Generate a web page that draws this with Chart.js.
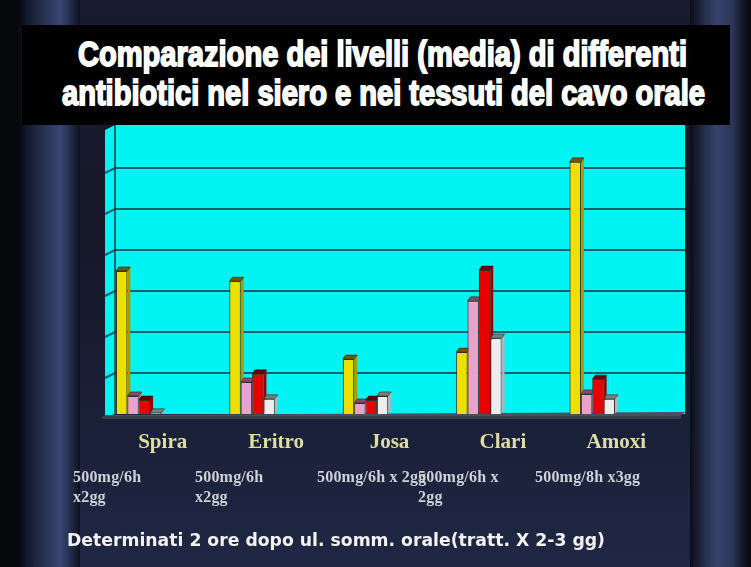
<!DOCTYPE html>
<html><head><meta charset="utf-8">
<script src="https://cdn.jsdelivr.net/npm/chart.js@4.4.1/dist/chart.umd.min.js"></script>
<style>
html,body{margin:0;padding:0;}
body{width:751px;height:567px;position:relative;overflow:hidden;
 background:linear-gradient(to bottom,#181c30 0%,#141828 40%,#1a2038 75%,#1f2744 100%);}
.stripe{position:absolute;top:0;height:567px;}
#sl{left:18px;width:62px;background:linear-gradient(to right,#06070b 0%,#141a2c 15%,#2a3456 45%,#3a4672 68%,#2a3458 80%,#0e111c 100%);}
#sr{left:690px;width:61px;background:linear-gradient(to right,#0b0d16 0%,#26304e 25%,#38446c 45%,#2a3456 70%,#10131e 90%,#08090e 100%);}
#edgeL{position:absolute;left:0;top:0;width:18px;height:567px;background:#07080c;}
#title{position:absolute;left:22px;top:25px;width:708px;height:100px;background:#000;}
.tl{position:absolute;white-space:nowrap;font-family:"Liberation Sans Narrow","Liberation Sans",sans-serif;font-weight:bold;color:#fff;font-size:31px;line-height:31px;transform-origin:left top;-webkit-text-stroke:1.6px #fff;}
#chart{position:absolute;left:0;top:0;}
.dose{position:absolute;font-family:"Liberation Serif",serif;font-weight:bold;font-size:16px;color:#cfd1d8;line-height:20px;white-space:pre;letter-spacing:0.2px;}
#foot{position:absolute;left:67px;top:530px;font-family:"DejaVu Sans",sans-serif;font-weight:bold;font-size:18px;line-height:20px;color:#f2f2f2;white-space:nowrap;transform-origin:left top;}
</style></head>
<body>
<div id="edgeL"></div>
<div class="stripe" id="sl"></div>
<div class="stripe" id="sr"></div>
<div id="title"></div>
<canvas id="chart" width="751" height="567"></canvas>
<div id="foot"></div>
<script>
// ---- data ----
const titleLines = ["Comparazione dei livelli (media) di differenti","antibiotici nel siero e nei tessuti del cavo orale"];
const categories = ["Spira","Eritro","Josa","Clari","Amoxi"];
const doses = [["500mg/6h","x2gg"],["500mg/6h","x2gg"],["500mg/6h x 2gg"],["500mg/6h x","2gg"],["500mg/8h x3gg"]];
const yellowValues = [3.49,3.24,1.34,1.51,6.15];
const pinkValues   = [0.44,0.78,0.27,2.76,0.49];
const redValues    = [0.34,0.98,0.34,3.51,0.85];
const whiteValues  = [0.03,0.37,0.44,1.85,0.37];
const yMin = 0, yMax = 7, yStep = 1;
const footnote = "Determinati 2 ore dopo ul. somm. orale(tratt. X 2-3 gg)";

// ---- title / texts ----
const titleBox = document.getElementById('title');
const titleGeom = [{x:56,y:12,w:609},{x:40,y:51,w:643}];
titleLines.forEach((t,i)=>{
  const d=document.createElement('div'); d.className='tl'; d.textContent=t;
  titleBox.appendChild(d);
  const w=d.getBoundingClientRect().width;
  d.style.left=titleGeom[i].x+'px'; d.style.top=titleGeom[i].y+'px';
  d.style.transform='scale('+(titleGeom[i].w/w)+',1.12)';
});
const foot=document.getElementById('foot');
foot.textContent = footnote;
foot.style.transform='scaleX('+(538/foot.getBoundingClientRect().width)+')';
const doseX=[73,195,317,418,535];
doses.forEach((lines,i)=>{
  const d=document.createElement('div'); d.className='dose';
  d.textContent=lines.join('\n');
  d.style.left=doseX[i]+'px'; d.style.top='467px';
  document.body.appendChild(d);
});

// ---- plugins ----
const wallPlugin = {
  id:'wall',
  beforeDatasetsDraw(chart){
    const {ctx, chartArea:a, scales:{y}} = chart;
    const L=a.left+33, R=a.right+36, B=a.bottom, T=y.getPixelForValue(yMax)-2;
    ctx.save();
    ctx.fillStyle='#00f4f4';
    ctx.fillRect(L,T,R-L,B-T);
    ctx.beginPath(); ctx.moveTo(L,T); ctx.lineTo(L-10,T+5); ctx.lineTo(L-10,B+3); ctx.lineTo(L,B); ctx.closePath(); ctx.fill();
    ctx.strokeStyle='#16606c'; ctx.lineWidth=2;
    for(let v=yMin+yStep; v<yMax; v+=yStep){
      const py=Math.round(y.getPixelForValue(v));
      ctx.beginPath(); ctx.moveTo(L-10,py+5); ctx.lineTo(L,py); ctx.lineTo(R,py); ctx.stroke();
    }
    ctx.strokeStyle='#1b3a44'; ctx.lineWidth=1.5;
    ctx.beginPath(); ctx.moveTo(L,T); ctx.lineTo(L,B); ctx.stroke();
    ctx.fillStyle='#4a4e5e';
    ctx.beginPath(); ctx.moveTo(L-10,B+1); ctx.lineTo(R,B-2); ctx.lineTo(R-6,B+3); ctx.lineTo(L-14,B+4); ctx.closePath(); ctx.fill();
    ctx.fillStyle='#3a3e4c'; ctx.fillRect(L-12,B+2,R-L+8,3);
    ctx.restore();
  }
};
const shade = {'#ede000':['#6b5a10','#a89c00'],'#e9a2cc':['#8a4a68','#b87898'],'#e80000':['#6a0000','#9a0000'],'#ededed':['#7c7c80','#b4b4b8']};
const barPlugin = {
  id:'bar3d',
  afterDatasetsDraw(chart){
    const ctx=chart.ctx;
    ctx.save();
    chart.data.datasets.forEach((ds,i)=>{
      const meta=chart.getDatasetMeta(i);
      const [capC, sideC]=shade[ds.backgroundColor];
      meta.data.forEach(el=>{
        el.draw(ctx);
        const {x,y,width,base}=el.getProps(['x','y','width','base'],true);
        const l=x-width/2, r=x+width/2, dx=3, dy=4;
        ctx.fillStyle=sideC;
        ctx.beginPath(); ctx.moveTo(r,y); ctx.lineTo(r+dx,y-dy); ctx.lineTo(r+dx,base-dy); ctx.lineTo(r,base); ctx.closePath(); ctx.fill();
        ctx.fillStyle=capC;
        ctx.beginPath(); ctx.moveTo(l,y); ctx.lineTo(r,y); ctx.lineTo(r+dx,y-dy); ctx.lineTo(l+dx,y-dy); ctx.closePath(); ctx.fill();
        ctx.strokeStyle='rgba(40,30,20,0.7)'; ctx.lineWidth=0.8; ctx.stroke();
      });
    });
    ctx.restore();
  }
};

const mk=(data,color)=>({data,backgroundColor:color,borderColor:'rgba(60,40,30,0.75)',borderWidth:1,barPercentage:1,categoryPercentage:0.4});
new Chart(document.getElementById('chart'),{
  type:'bar',
  data:{labels:categories,datasets:[
    mk(yellowValues,'#ede000'),
    mk(pinkValues,'#e9a2cc'),
    mk(redValues,'#e80000'),
    mk(whiteValues,'#ededed')
  ]},
  options:{
    responsive:false, animation:false,
    layout:{padding:{left:82,right:102,top:127,bottom:113}},
    plugins:{legend:{display:false},tooltip:{enabled:false},title:{display:false}},
    scales:{
      x:{grid:{display:false,drawTicks:false},border:{display:false},
         ticks:{padding:16,labelOffset:24,color:'#dedea0',font:{family:'"Liberation Serif", serif',weight:'bold',size:21}},
         afterFit(s){s.height=40;}},
      y:{display:false,min:yMin,max:yMax,ticks:{stepSize:yStep}}
    }
  },
  plugins:[wallPlugin,barPlugin]
});
</script>
</body></html>
